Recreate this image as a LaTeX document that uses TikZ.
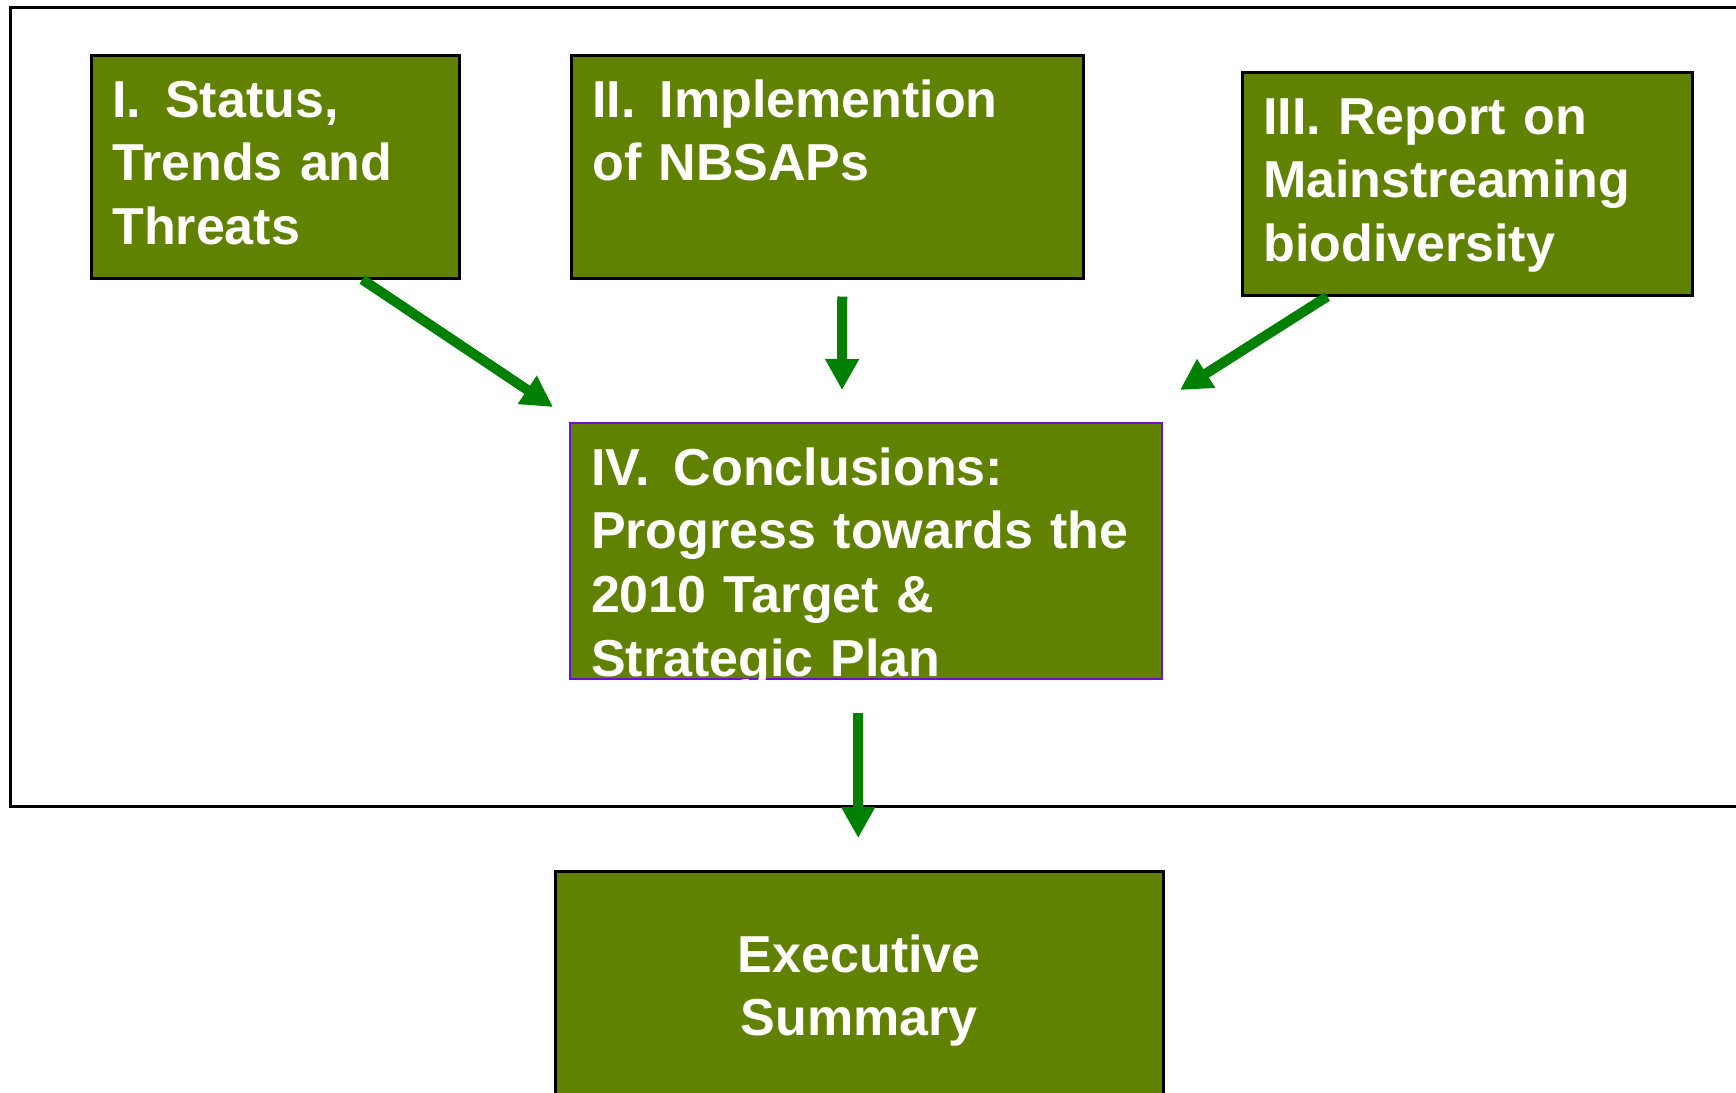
\documentclass[tikz,border=0pt]{standalone}
\usepackage{fontspec}
\setmainfont{Liberation Sans}
\usepackage{xcolor}
\usepackage{tikz}
\usetikzlibrary{arrows.meta,positioning,calc}

\definecolor{boxgreen}{HTML}{618100}
\definecolor{flowgreen}{HTML}{008000}
\definecolor{concpurple}{HTML}{6A10D8}

\newcommand{\numgap}{\hspace{12pt}}

\tikzset{
  box/.style={draw=black, line width=1.25pt, fill=boxgreen, text=white,
    font=\bfseries\fontsize{26}{31.85}\selectfont, align=left,
    inner xsep=10.5pt, inner ysep=0pt, anchor=north west, text height=31pt},
  flow/.style={draw=flowgreen, line width=5pt,
    -{Triangle[length=15.5pt,width=16pt]}}
}

\begin{document}
\begin{tikzpicture}[x=0.5pt,y=-0.5pt]
        \useasboundingbox (0,0) rectangle (1736,1093);
        \clip (0,0) rectangle (1736,1093);

        % Outer frame (runs off the right edge)
        \draw[line width=1.5pt] (10,7) rectangle (1780,806);

        % Report sections
        \node[box, text width=163pt, text depth=80.5pt] (status) at (90,54)
            {I.\numgap Status,\\Trends and\\Threats};
        \node[box, text width=235pt, text depth=80.5pt] (nbsap) at (570,54)
            {II.\numgap Implemention\\of NBSAPs};
        \node[box, text width=204pt, text depth=80.5pt] (mainstr) at (1241,71)
            {III. Report on\\Mainstreaming\\biodiversity};

        % Conclusions
        \node[box, draw=concpurple, line width=1pt, text width=275pt, text depth=97pt] (concl) at (569,422)
            {IV.\numgap Conclusions:\\Progress towards the\\2010 Target \&\\Strategic Plan};

        % Executive summary (cut by the bottom edge)
        \node[box, align=center, text width=283pt, text height=50.5pt, text depth=80pt] (exec) at (554,870)
            {Executive\\Summary};

        % Flow arrows
        \draw[flow] ([xshift=43.5pt]status.south) -- ([xshift=-8pt,yshift=7.5pt]concl.north west);
        \draw[flow] ([xshift=7.5pt,yshift=-8.5pt]nbsap.south) -- ([xshift=-12pt,yshift=16pt]concl.north);
        \draw[flow] ([xshift=-70pt]mainstr.south) -- ([xshift=8.5pt,yshift=16pt]concl.north east);
        \draw[flow] ([xshift=-4pt,yshift=-16.5pt]concl.south) -- ([xshift=-0.5pt,yshift=16pt]exec.north);

    \end{tikzpicture}
\end{document}
